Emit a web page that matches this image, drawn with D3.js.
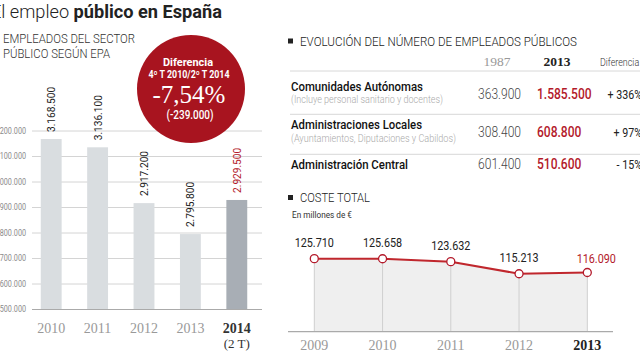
<!DOCTYPE html>
<html><head><meta charset="utf-8">
<script src="https://cdn.jsdelivr.net/npm/d3@7"></script>
<style>
html,body{margin:0;padding:0;background:#fff;overflow:hidden}
svg{display:block}
text{font-family:Roboto,"Noto Sans",sans-serif}
.serif{font-family:"Liberation Serif","DejaVu Serif",serif}
</style></head>
<body>
<svg id="c" width="640" height="360"></svg>
<script>
// ---- data ----
const barYears = ["2010", "2011", "2012", "2013", "2014"];
const barYearSub = ["", "", "", "", "(2 T)"];
const barValues = [3168500, 3136100, 2917200, 2795800, 2929500];
const barTicks = [2500000, 2600000, 2700000, 2800000, 2900000, 3000000, 3100000, 3200000];

const tableHeaders = ["1987", "2013", "Diferencia"];
const tableRows = ["Comunidades Autónomas", "Administraciones Locales", "Administración Central"];
const tableNotes = ["(Incluye personal sanitario y docentes)", "(Ayuntamientos, Diputaciones y Cabildos)", ""];
const values1987 = [363900, 308400, 601400];
const values2013 = [1585500, 608800, 510600];
const diffs = ["+ 336%", "+ 97%", "- 15%"];

const costYears = ["2009", "2010", "2011", "2012", "2013"];
const costValues = [125710, 125658, 123632, 115213, 116090];

const RED = "#b3192a";
const es = d3.formatLocale({decimal: ",", thousands: ".", grouping: [3], currency: ["", "€"]});
const fmt = es.format(",d");

const svg = d3.select("#c");
function fit(sel, w) { sel.attr("textLength", w).attr("lengthAdjust", "spacingAndGlyphs"); return sel; }
function condense(sel, f) {
  sel.each(function () {
    const w = this.getComputedTextLength();
    d3.select(this).attr("textLength", w * f).attr("lengthAdjust", "spacingAndGlyphs");
  });
  return sel;
}

// ---- titles ----
const t1 = svg.append("text").attr("x", -9).attr("y", 18.3).attr("font-size", 18).attr("fill", "#222");
t1.append("tspan").attr("font-weight", 300).text("El empleo ");
t1.append("tspan").attr("font-weight", 700).text("público en España");
fit(t1, 231);

fit(svg.append("text").attr("x", 3).attr("y", 43.3).attr("font-size", 12.5).attr("font-weight", 300).attr("fill", "#333").text("EMPLEADOS DEL SECTOR"), 132);
fit(svg.append("text").attr("x", 3).attr("y", 57.8).attr("font-size", 12.5).attr("font-weight", 300).attr("fill", "#333").text("PÚBLICO SEGÚN EPA"), 107);

// ---- bar chart ----
const xb = d3.scaleBand().domain(barYears).range([28, 260]).paddingInner(0.55).paddingOuter(0.275);
const yb = d3.scaleLinear().domain([2500000, 3200000]).range([309.5, 131]);

const grid = svg.append("g");
grid.selectAll("line").data(barTicks.slice(1)).join("line")
  .attr("x1", 32).attr("x2", 262).attr("y1", d => yb(d)).attr("y2", d => yb(d))
  .attr("stroke", "#d4d4d4").attr("stroke-width", 1);
const tl = svg.append("g").selectAll("text").data(barTicks).join("text")
  .attr("x", 26).attr("y", d => yb(d)).attr("dy", "0.35em").attr("text-anchor", "end")
  .attr("font-size", 8.5).attr("font-weight", 400).attr("fill", "#8a8a8a").text(d => fmt(d));
condense(tl, 0.85);

svg.append("g").selectAll("rect").data(barValues).join("rect")
  .attr("x", (d, i) => xb(barYears[i])).attr("width", xb.bandwidth())
  .attr("y", d => yb(d)).attr("height", d => yb.range()[0] - yb(d))
  .attr("fill", (d, i) => i === barValues.length - 1 ? "#a8aeb5" : "#d9dde0");

svg.append("line").attr("x1", 32).attr("x2", 262).attr("y1", yb(2500000)).attr("y2", yb(2500000))
  .attr("stroke", "#aaa").attr("stroke-width", 1.2);

const vl = svg.append("g").selectAll("text").data(barValues).join("text")
  .attr("transform", (d, i) => `translate(${xb(barYears[i]) + xb.bandwidth() / 2},${yb(d) - 7}) rotate(-90)`)
  .attr("dy", "0.35em").attr("font-size", 11.5)
  .attr("fill", (d, i) => i === barValues.length - 1 ? RED : "#222").text(d => fmt(d));
condense(vl, 0.88);

svg.append("g").selectAll("text").data(barYears).join("text").attr("class", "serif")
  .attr("x", d => xb(d) + xb.bandwidth() / 2).attr("y", 332.7).attr("text-anchor", "middle")
  .attr("font-size", 14).attr("font-weight", (d, i) => i === barYears.length - 1 ? 700 : 400)
  .attr("fill", (d, i) => i === barYears.length - 1 ? "#333" : "#999").text(d => d);
svg.append("g").selectAll("text").data(barYearSub).join("text").attr("class", "serif")
  .attr("x", (d, i) => xb(barYears[i]) + xb.bandwidth() / 2).attr("y", 347.5).attr("text-anchor", "middle")
  .attr("font-size", 13).attr("fill", "#333").text(d => d);

// ---- red circle ----
const cg = svg.append("g");
cg.append("circle").attr("cx", 191).attr("cy", 89).attr("r", 54).attr("fill", "#a8141f");
fit(cg.append("text").attr("x", 188).attr("y", 65.7).attr("text-anchor", "middle").attr("font-size", 10.5).attr("font-weight", 700).attr("fill", "#fff").text("Diferencia"), 50);
fit(cg.append("text").attr("x", 189).attr("y", 78).attr("text-anchor", "middle").attr("font-size", 10.5).attr("font-weight", 700).attr("fill", "#fff").text("4º T 2010/2º T 2014"), 81);
cg.append("text").attr("class", "serif").attr("x", 189).attr("y", 103).attr("text-anchor", "middle").attr("font-size", 25).attr("fill", "#fff").text("-7,54%");
fit(cg.append("text").attr("x", 190).attr("y", 119).attr("text-anchor", "middle").attr("font-size", 12).attr("font-weight", 500).attr("fill", "#fff").text("(-239.000)"), 47);

// ---- table ----
svg.append("rect").attr("x", 288).attr("y", 38.5).attr("width", 5).attr("height", 5).attr("fill", "#222");
fit(svg.append("text").attr("x", 300).attr("y", 45.7).attr("font-size", 13).attr("font-weight", 300).attr("fill", "#222").text("EVOLUCIÓN DEL NÚMERO DE EMPLEADOS PÚBLICOS"), 277);

svg.append("text").attr("class", "serif").attr("x", 497).attr("y", 65.7).attr("text-anchor", "middle").attr("font-size", 13.5).attr("fill", "#999").text(tableHeaders[0]);
svg.append("text").attr("class", "serif").attr("x", 557).attr("y", 65.7).attr("text-anchor", "middle").attr("font-size", 13.5).attr("font-weight", 700).attr("fill", "#222").text(tableHeaders[1]);
condense(svg.append("text").attr("x", 600).attr("y", 65.7).attr("font-size", 10.5).attr("font-weight", 300).attr("fill", "#333").text(tableHeaders[2]), 0.85);

const sepY = [71, 114.3, 154.3];
svg.append("g").selectAll("line").data(sepY).join("line")
  .attr("x1", 290).attr("x2", 640).attr("y1", d => d).attr("y2", d => d).attr("stroke", "#d8d8d8");

const nameBase = [90.7, 129, 169.3];
const noteBase = [103.3, 142.3, 0];
const valBase = [99, 137.3, 169.3];
const nameW = [132, 131, 117];
const noteW = [152, 165, 0];
tableRows.forEach((r, i) => {
  fit(svg.append("text").attr("x", 291).attr("y", nameBase[i]).attr("font-size", 13.5).attr("font-weight", 500).attr("fill", "#111").text(r), nameW[i]);
  if (tableNotes[i]) fit(svg.append("text").attr("x", 291).attr("y", noteBase[i]).attr("font-size", 10.5).attr("font-weight", 300).attr("fill", "#aaa").text(tableNotes[i]), noteW[i]);
});
condense(svg.append("g").selectAll("text").data(values1987).join("text")
  .attr("x", 521).attr("y", (d, i) => valBase[i]).attr("text-anchor", "end").attr("font-size", 14).attr("font-weight", 300)
  .attr("fill", "#444").text(d => fmt(d)), 0.86);
condense(svg.append("g").selectAll("text").data(values2013).join("text")
  .attr("x", 537).attr("y", (d, i) => valBase[i]).attr("font-size", 14).attr("font-weight", 500)
  .attr("fill", RED).text(d => fmt(d)), 0.86);
condense(svg.append("g").selectAll("text").data(diffs).join("text")
  .attr("x", 642).attr("y", (d, i) => valBase[i]).attr("text-anchor", "end").attr("font-size", 13).attr("font-weight", 400)
  .attr("fill", "#222").text(d => d), 0.82);

// ---- coste total ----
svg.append("rect").attr("x", 288).attr("y", 195).attr("width", 5).attr("height", 5).attr("fill", "#222");
fit(svg.append("text").attr("x", 300).attr("y", 202).attr("font-size", 13).attr("font-weight", 300).attr("fill", "#222").text("COSTE TOTAL"), 70);
fit(svg.append("text").attr("x", 292).attr("y", 218.3).attr("font-size", 9.5).attr("font-weight", 400).attr("fill", "#333").text("En millones de €"), 60);

const xl = d3.scalePoint().domain(costYears).range([314.3, 587.3]);
const yl = d3.scaleLinear().domain([75000, 130000]).range([331.5, 252.5]);
const base = 331.7;
const pts = costValues.map((v, i) => [xl(costYears[i]), yl(v)]);

svg.append("path").datum(pts)
  .attr("d", d3.area().x(d => d[0]).y0(base).y1(d => d[1]))
  .attr("fill", "#efefef");
svg.append("g").selectAll("line").data(pts).join("line")
  .attr("x1", d => d[0]).attr("x2", d => d[0]).attr("y1", d => d[1]).attr("y2", base)
  .attr("stroke", "#cfcfcf").attr("stroke-width", 1);
svg.append("line").attr("x1", 288).attr("x2", 613).attr("y1", base).attr("y2", base).attr("stroke", "#aaa").attr("stroke-width", 1.2);
svg.append("path").datum(pts).attr("d", d3.line()).attr("fill", "none").attr("stroke", "#c0272d").attr("stroke-width", 2);
svg.append("g").selectAll("circle").data(pts).join("circle")
  .attr("cx", d => d[0]).attr("cy", d => d[1]).attr("r", 4)
  .attr("fill", "#fff").attr("stroke", "#b3192a").attr("stroke-width", 1.3);

const last = costValues.length - 1;
condense(svg.append("g").selectAll("text").data(costValues).join("text")
  .attr("x", (d, i) => xl(costYears[i]) + (i === last ? 9 : 0))
  .attr("y", (d, i) => yl(d) - (i === last ? 9.6 : 11.6))
  .attr("text-anchor", "middle").attr("font-size", 13.5)
  .attr("fill", (d, i) => i === last ? RED : "#222").text(d => fmt(d)), 0.8);

svg.append("g").selectAll("text").data(costYears).join("text").attr("class", "serif")
  .attr("x", d => xl(d)).attr("y", 350).attr("text-anchor", "middle").attr("font-size", 14)
  .attr("font-weight", (d, i) => i === last ? 700 : 400)
  .attr("fill", (d, i) => i === last ? "#222" : "#999").text(d => d);
</script>
</body></html>
